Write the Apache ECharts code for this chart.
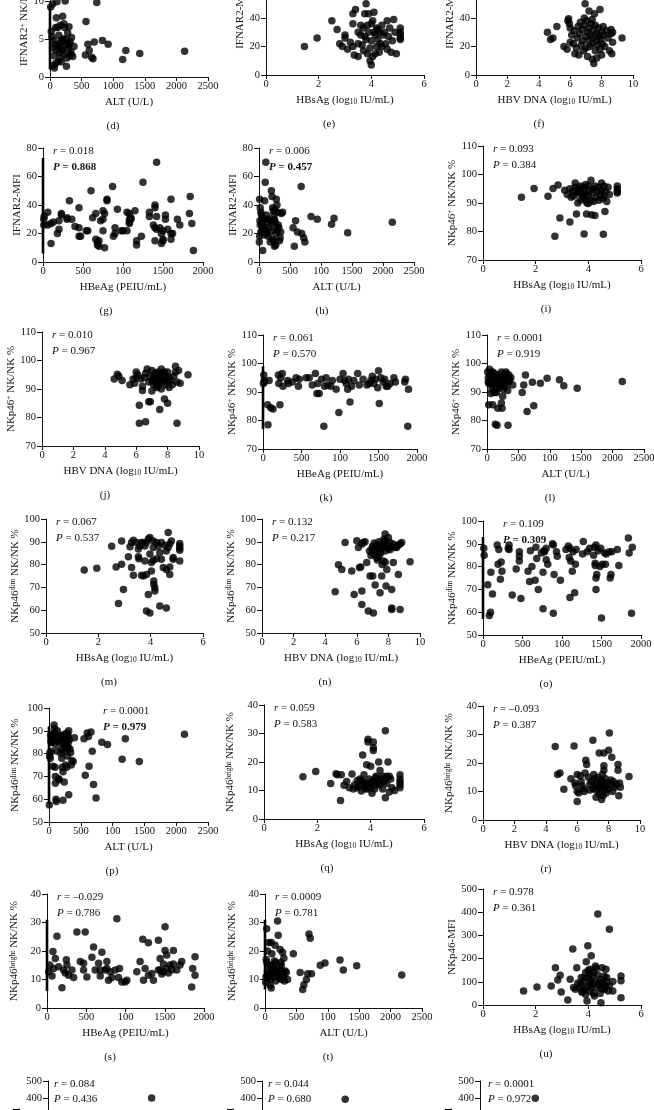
<!DOCTYPE html>
<html><head><meta charset="utf-8">
<script src="https://cdn.jsdelivr.net/npm/echarts/dist/echarts.min.js"></script>
<style>html,body{margin:0;padding:0;background:#fff}#c{width:654px;height:1110px}</style>
</head><body><div id="c"></div>
<script>
// ---------- tick labels ----------
const TICKS_ALT_FULL = ['0','500','1000','1500','2000','2500'];
const TICKS_ALT = ['0','500','100','1500','2000','2500'];
const TICKS_HBEAG = ['0','500','100','1500','2000'];
const TICKS_HBSAG = ['0','2','4','6'];
const TICKS_DNA = ['0','2','4','6','8','10'];
const TICKS_IFN_NK = ['0','5','10','15'];
const TICKS_IFN_MFI = ['0','20','40','60','80'];
const TICKS_NK_POS = ['70','80','90','100','110'];
const TICKS_NK_DIM = ['50','60','70','80','90','100'];
const TICKS_NK_BRIGHT = ['0','10','20','30','40'];
const TICKS_NK_MFI = ['0','100','200','300','400','500'];

// ---------- panel labels & statistics ----------
const R_VALUES = {g:'0.018',h:'0.006',i:'0.093',j:'0.010',k:'0.061',l:'0.0001',m:'0.067',n:'0.132',o:'0.109',p:'0.0001',q:'0.059',r:'–0.093',s:'–0.029',t:'0.0009',u:'0.978',v:'0.084',w:'0.044',x:'0.0001'};
const P_VALUES = {g:'0.868',h:'0.457',i:'0.384',j:'0.967',k:'0.570',l:'0.919',m:'0.537',n:'0.217',o:'0.309',p:'0.979',q:'0.583',r:'0.387',s:'0.786',t:'0.781',u:'0.361',v:'0.436',w:'0.680',x:'0.972'};
const P_BOLD = ['g','h','o','p'];
// dense stacks of points sitting on the y axis (x = 0), given as y ranges
const AXIS_STACKS = {d:[1,9.5], g:[6,73], k:[77,99], o:[57,93], p:[58,92], s:[6,31], t:[6.5,31]};

// ---------- data (x, y) ----------
const dataD = [[10,9.2],[20,6],[30,5.3],[40,9.6],[50,1.5],[60,2.8],[70,1.2],[80,4.3],[90,6.5],[100,7.8],[110,9.9],[120,4],[130,2],[140,5.5],[150,3.2],[160,6.8],[170,4.5],[180,2],[190,3.6],[200,8],[210,5],[220,3],[230,6.5],[240,10],[250,4.2],[260,1.4],[270,2.5],[280,5.8],[290,3.8],[300,6.6],[310,2.8],[320,4.6],[330,3.3],[340,5.2],[360,2.7],[380,4],[60,4.8],[100,3.5],[150,4.2],[200,3.5],[250,5],[300,4.2],[120,6.5],[180,4.8],[40,3.8],[220,7],[270,4.5],[330,3],[90,1.8],[160,2.5],[560,2.9],[570,7.3],[600,4.3],[620,3.5],[660,2.6],[680,2.4],[700,4.6],[740,9.8],[830,4.8],[920,4.3],[1150,2.3],[1200,3.5],[1420,3.1],[2130,3.4]];
const dataE = [[1.46,20],[1.94,26],[2.5,38],[2.7,32],[2.8,22],[2.9,20],[3.0,28],[3.0,26],[3.1,18],[3.2,23],[3.3,43],[3.3,36],[3.35,14],[3.4,46],[3.5,13],[3.5,30],[3.6,35],[3.65,21],[3.7,17],[3.7,33],[3.75,43],[3.8,50],[3.8,25],[3.85,15],[3.9,43],[3.9,30],[3.95,19],[3.95,10],[4.0,7],[4.0,24],[4.0,36],[4.05,13],[4.1,44],[4.1,30],[4.15,28],[4.2,20],[4.2,33],[4.25,25],[4.3,16],[4.3,30],[4.35,22],[4.4,35],[4.45,28],[4.5,30],[4.55,22],[4.6,38],[4.6,18],[4.65,27],[4.7,33],[4.75,16],[4.8,24],[4.85,39],[4.9,30],[4.95,15],[5.1,33],[5.1,30],[5.1,28],[5.1,26],[5.1,25],[3.6,28],[3.85,35],[4.05,38],[3.5,22],[4.25,32],[4.4,20],[3.75,27],[4.15,15],[3.3,20]];
const dataF = [[4.55,30],[4.75,25],[4.9,26],[5.15,34],[5.6,20],[5.8,18],[5.85,38],[5.9,39.5],[5.95,36],[6.0,33],[6.0,23],[6.1,28],[6.2,22],[6.25,31],[6.3,15],[6.4,19],[6.45,26],[6.5,34],[6.55,14],[6.6,29],[6.65,37],[6.7,21],[6.75,32],[6.8,24],[6.85,17],[6.9,35],[6.95,50],[7.0,27],[7.0,19],[7.05,38],[7.1,30],[7.1,13],[7.15,24],[7.2,45],[7.2,33],[7.25,20],[7.3,28],[7.35,36],[7.4,22],[7.4,11],[7.45,26],[7.5,8],[7.5,31],[7.55,43],[7.6,17],[7.6,35],[7.65,24],[7.7,29],[7.7,12],[7.75,21],[7.8,33],[7.85,27],[7.9,46],[7.9,18],[7.95,25],[8.0,30],[8.0,14],[8.05,22],[8.1,34],[8.15,28],[8.2,20],[8.3,31],[8.4,26],[8.5,17],[8.6,32],[8.6,29],[8.7,30],[8.7,23],[8.65,15],[9.3,26],[6.9,40],[7.4,39]];
const dataG = [[10,30],[10,26],[15,32],[60,35],[60,26],[100,13],[100,27],[130,28],[180,20],[200,29],[200,23],[230,33],[230,34],[300,31],[300,30],[330,43],[360,30],[400,25],[450,38],[450,24],[450,18],[470,18],[540,22],[560,22],[600,50],[620,31],[660,16],[660,34],[680,14],[680,12],[700,11],[700,15],[720,29],[750,36],[750,30],[750,22],[770,34],[770,10],[800,44],[800,43],[870,53],[880,18],[900,20],[900,24],[930,37],[980,22],[1000,22],[1050,35],[1050,22],[1080,34],[1080,30],[1080,28],[1080,27],[1100,30],[1100,31],[1150,36],[1170,15],[1170,12],[1250,56],[1230,18],[1330,35],[1330,32],[1380,26],[1400,40],[1400,38],[1400,15],[1400,24],[1420,70],[1420,32],[1420,23],[1460,24],[1480,20],[1480,13],[1500,16],[1500,15],[1500,22],[1530,33],[1530,30],[1560,23],[1600,20],[1600,44],[1600,16],[1620,20],[1680,30],[1710,26],[1830,34],[1840,46],[1860,27],[1880,8]];
const dataH = [[10,44],[20,38],[30,35],[5,14],[40,27],[60,8],[50,22],[80,30],[100,56],[110,70],[90,43],[70,25],[120,33],[130,20],[150,18],[160,24],[180,29],[200,50],[210,46],[220,38],[230,36],[240,33],[250,30],[260,28],[270,20],[280,44],[290,40],[300,35],[310,26],[320,24],[330,15],[340,17],[350,21],[360,34],[200,27],[220,16],[240,15],[250,11],[270,12],[180,14],[150,30],[120,28],[100,23],[90,19],[60,31],[40,33],[30,21],[20,26],[15,29],[10,18],[200,22],[260,37],[280,24],[300,22],[380,35],[230,29],[550,24],[570,11],[590,29],[620,21],[680,53],[690,20],[720,17],[740,14],[840,32],[940,30],[1170,26.5],[1210,30.7],[1430,20.6],[2150,27.9]];
const dataI = [[1.46,92],[1.94,95.1],[2.47,92.4],[2.66,95.1],[2.85,96.3],[2.92,84.7],[2.73,78.3],[3.3,83.3],[3.55,86.1],[3.84,79.1],[3.93,86.1],[4.12,85.9],[4.25,85.6],[4.57,79],[4.63,87],[3.1,94.5],[3.2,93],[3.3,95],[3.4,94],[3.45,92.5],[3.5,97],[3.55,93.5],[3.6,95],[3.6,90],[3.65,94],[3.7,91],[3.7,96],[3.75,93],[3.8,92],[3.8,95.5],[3.85,94],[3.9,91],[3.9,93],[3.95,90],[4.0,96],[4.0,92.5],[4.05,94.5],[4.1,98],[4.1,91],[4.15,93.5],[4.2,95],[4.2,90.5],[4.25,96],[4.3,92],[4.35,94],[4.4,95.5],[4.4,91],[4.45,93],[4.5,97],[4.5,94.5],[4.55,91.5],[4.6,96],[4.6,92.5],[4.65,94],[4.7,90.5],[4.75,95.5],[4.8,93],[5.1,95],[5.1,94],[5.1,93.5],[5.1,96],[3.35,92],[3.5,95.5],[4.0,89.8],[3.9,96.5]];
const dataJ = [[4.6,93.5],[4.8,95.2],[4.9,94.5],[5.1,93],[5.6,91.5],[5.8,93.5],[5.9,92],[6.0,96],[6.0,94],[6.1,95],[6.2,84.3],[6.2,78],[6.3,93.5],[6.4,91],[6.4,89.5],[6.5,94],[6.6,95.5],[6.6,78.5],[6.7,97],[6.8,92.5],[6.8,85.5],[6.9,85.5],[7.0,89.3],[7.0,96.5],[7.0,93],[7.1,94],[7.1,91.5],[7.2,95.5],[7.2,92.5],[7.3,94],[7.3,90.5],[7.4,96],[7.4,93],[7.4,91],[7.5,92.5],[7.5,82.8],[7.5,95],[7.6,97],[7.6,94],[7.6,90],[7.7,92.5],[7.7,95.5],[7.8,86.5],[7.8,93.5],[7.9,91.5],[7.9,94.5],[8.0,92.5],[8.0,85],[8.0,96],[8.1,94],[8.1,90.5],[8.2,93],[8.3,91.5],[8.4,94.5],[8.5,98],[8.5,96],[8.6,92.5],[8.6,78],[8.7,96.5],[8.8,92],[9.3,95],[7.2,93.5],[6.9,94.5],[7.8,96]];
const dataK = [[10,96],[15,94],[5,93],[20,93.5],[60,85.5],[65,78.5],[80,94],[100,84.5],[130,84],[200,96],[205,93],[220,85.5],[230,95],[250,96.5],[260,92],[320,94],[330,93],[380,93.5],[430,95],[460,92],[470,94.5],[560,95],[600,95],[640,92.5],[680,96.5],[700,89.5],[710,93],[730,89.5],[760,94.5],[790,78],[800,92],[820,95],[840,92.5],[880,92],[900,94],[950,91],[985,82.8],[1000,94.5],[1040,96.5],[1060,94],[1080,93],[1100,91],[1110,94.5],[1130,86.5],[1150,92],[1180,94],[1230,96.5],[1250,92.5],[1300,94.5],[1350,92.5],[1380,93],[1400,94],[1420,95.5],[1440,93],[1460,94.5],[1490,91.5],[1500,97.5],[1510,86],[1530,95],[1560,93.5],[1580,94.5],[1600,92],[1620,92],[1650,93],[1700,95],[1720,93.5],[1840,93.5],[1850,94.5],[1880,78],[1890,91]];
const dataL = [[27,85.5],[90,85.5],[133,78.7],[160,78.3],[335,78.3],[240,84.3],[229,86.1],[133,89.8],[560,89.8],[585,92.5],[612,96],[638,83.2],[745,85.2],[850,93.1],[957,94.8],[1154,94.3],[1223,92.2],[1436,91.3],[2154,93.7],[723,93.4],[10,97],[20,95],[30,93],[40,98],[50,96],[60,94],[70,92.5],[80,91],[90,95.5],[100,93],[110,90],[120,96.5],[130,94],[150,92],[160,95],[170,84.3],[180,93],[190,96],[200,91.5],[210,94.5],[220,92],[230,97],[240,93.5],[250,95],[260,91],[270,96],[280,93],[290,94.5],[300,92],[310,96.5],[320,95],[330,90.5],[340,93.5],[350,96],[360,94],[380,95],[410,92.5],[60,89.5],[150,89.8],[250,88.5],[20,93.5],[90,97],[200,95],[300,97]];
const dataM = [[1.46,77.6],[1.94,78.4],[2.51,88],[2.68,79],[2.77,62.9],[2.89,80.1],[2.89,90.4],[2.96,69.1],[3.15,83.4],[3.21,87.8],[3.27,78.7],[3.34,75.3],[3.34,90.7],[3.46,89.7],[3.53,86.8],[3.53,83.4],[3.55,82.6],[3.65,89.7],[3.65,75.3],[3.72,75],[3.78,88.2],[3.78,81.6],[3.84,75.7],[3.84,89.7],[3.91,91.2],[3.91,66.9],[3.84,59.6],[3.97,58.8],[3.97,91.9],[3.97,84.6],[4.03,77.2],[4.03,80.9],[4.1,90.4],[4.1,87.5],[4.12,72.8],[4.12,71.3],[4.16,69.9],[4.16,68.4],[4.1,81.9],[4.22,82.6],[4.29,88.2],[4.35,85.3],[4.41,89.7],[4.35,61.8],[4.41,82.4],[4.48,78.7],[4.54,88.5],[4.6,86],[4.6,77.9],[4.6,61],[4.67,94.1],[4.67,87.5],[4.73,89],[4.73,79],[4.73,75.7],[4.79,90.4],[4.86,83.1],[4.86,82.4],[5.11,89.3],[5.11,88.2],[5.11,87.2],[5.11,86.3],[5.11,81.6],[3.72,89.7],[3.59,88.2],[3.27,89.7],[4.22,89.7]];
const dataN = [[4.63,68.1],[4.84,79.9],[5.05,77.9],[5.26,89.7],[5.68,77.2],[5.83,66.9],[6.0,90.5],[6.1,87.5],[6.17,78.7],[6.25,79],[6.32,89],[6.32,68.4],[6.42,89.7],[6.32,62.5],[6.52,90],[6.73,59.6],[6.63,80.9],[6.84,75],[7.01,75],[7.05,58.8],[7.16,87.5],[7.16,71],[7.26,83.1],[7.37,86.1],[7.47,67.6],[7.58,75],[7.68,81.6],[7.79,89],[7.79,93.4],[7.85,70.6],[7.9,77.9],[8.0,91.9],[8.1,89.7],[8.21,69.1],[8.21,61],[8.21,60.3],[8.31,80.9],[8.52,87.5],[8.63,75.7],[8.74,60.3],[8.74,89],[8.84,89.7],[9.37,81.3],[7.0,88],[7.1,89.5],[7.2,86],[7.3,88.5],[7.4,90],[7.5,87],[7.5,85],[7.6,89],[7.7,91],[7.7,87.5],[7.8,86],[7.9,88.5],[8.0,87],[8.2,88],[8.3,89],[8.4,87.5],[8.6,88.5],[6.9,84],[7.0,85.5],[7.3,82],[7.6,80],[7.8,81],[7.1,84.5],[7.4,83.5],[6.8,86],[6.95,87],[7.8,90.5],[8.1,86.5]];
const dataO = [[10,88],[15,85],[60,72],[80,58.5],[95,60],[100,77.5],[120,68],[180,89.5],[190,81],[200,87.5],[220,74.5],[230,82],[240,78],[320,88],[330,89.5],[330,87.5],[370,67.5],[420,79],[460,86.5],[460,84.5],[460,82.5],[480,66],[570,78],[590,73.5],[600,87],[620,80],[660,74],[670,88.5],[680,83.5],[700,70],[740,86],[760,77.5],[770,87],[780,86.5],[760,61.5],[800,83],[800,88],[820,81],[880,90],[890,89.5],[890,59.5],[900,76.5],[930,86.5],[940,84.5],[980,74],[1050,87.5],[1080,89],[1090,84],[1100,66.5],[1100,88],[1110,82.5],[1130,78],[1140,86.5],[1160,68.5],[1170,81],[1180,87.5],[1260,85.5],[1270,91],[1320,86.5],[1350,88],[1400,85],[1410,88.5],[1420,81.5],[1420,80.5],[1430,89.5],[1430,75],[1430,70],[1440,76.5],[1460,87],[1480,80],[1490,88],[1500,57.5],[1510,81],[1540,86],[1550,81],[1560,85.5],[1600,86.5],[1610,75],[1620,76.5],[1630,86.5],[1700,87.5],[1720,80.5],[1840,92.5],[1850,86],[1880,59.5],[1890,88.5]];
const dataP = [[5,57.5],[10,79],[15,80.5],[20,78],[25,88],[30,86],[35,85],[40,81],[50,88.5],[60,74.5],[70,86],[80,92.5],[85,91],[90,89],[95,74],[100,84],[100,67],[100,70],[110,60],[115,59],[120,85.5],[130,81],[140,88],[150,69],[160,68.5],[170,86],[180,87.5],[190,80],[200,88],[200,78],[210,86.5],[220,72],[220,59.5],[230,87],[240,67.5],[240,81],[250,88.5],[250,83],[260,75],[270,82.5],[270,86],[280,89],[280,74],[290,87.5],[290,79],[300,88],[300,83],[310,90],[310,62],[320,86],[330,82],[340,80.5],[350,75],[360,77],[380,76.5],[400,87],[550,86.5],[570,70.5],[600,89],[620,87.5],[630,74.5],[660,89.5],[680,81],[700,66.5],[740,60.5],[830,85],[920,84],[1150,77.5],[1200,86.5],[1420,76.5],[2130,88.5],[40,85],[60,88],[130,90],[180,85],[200,82],[230,84],[260,86],[300,85],[210,74]];
const dataQ = [[1.46,14.8],[1.94,16.7],[2.5,12.5],[2.7,15.9],[2.75,15.5],[2.9,15.5],[2.87,6.5],[3.0,11.8],[3.1,13.2],[3.2,11],[3.3,15.8],[3.35,10.5],[3.4,12],[3.5,13.5],[3.55,11.5],[3.6,14],[3.65,9.8],[3.7,12.5],[3.7,22.5],[3.75,13],[3.8,11],[3.8,10.5],[3.85,19],[3.9,28],[3.9,27],[3.95,12],[3.95,14],[4.0,18.5],[4.05,9],[4.05,13],[4.1,27],[4.1,25],[4.1,24],[4.15,10.5],[4.2,15],[4.2,11.8],[4.25,13],[4.3,20],[4.35,17],[4.35,12],[4.4,14],[4.45,10.5],[4.5,13],[4.55,31],[4.55,7.5],[4.6,12.5],[4.65,20],[4.7,15],[4.7,9.5],[4.75,14],[4.8,11],[4.9,10],[5.1,15.5],[5.1,14],[5.1,13],[5.1,12],[5.1,11],[3.65,13.5],[3.75,15.5],[3.85,12.5],[4.0,11],[4.1,13.5],[4.3,12.5],[4.45,15],[3.5,11],[3.9,10.5],[4.2,14.5],[4.6,15]];
const dataR = [[4.6,25.8],[4.75,16],[4.9,16.5],[5.15,10.8],[5.6,14.5],[5.8,26],[5.85,13],[5.9,12],[6.0,16],[6.0,6.5],[6.0,10],[6.1,9.5],[6.2,15.5],[6.25,13.5],[6.3,12],[6.4,11],[6.45,10],[6.5,16.5],[6.55,21],[6.6,19.5],[6.7,15],[6.8,12.5],[6.9,13.5],[7.0,28],[7.0,11],[7.05,16],[7.1,14.5],[7.15,12],[7.2,10.5],[7.25,13],[7.3,15],[7.35,11.5],[7.4,23.5],[7.4,9],[7.45,12.5],[7.5,14],[7.5,10],[7.55,7.2],[7.6,11.5],[7.6,13.5],[7.65,8.5],[7.7,23.5],[7.7,19],[7.7,17.5],[7.75,12],[7.8,10.5],[7.8,14.5],[7.85,9.5],[7.9,13],[8.0,24.5],[8.0,11],[8.05,30.5],[8.1,12.5],[8.15,14],[8.2,22],[8.25,10],[8.3,13.5],[8.4,11.5],[8.5,12.5],[8.6,19.5],[8.6,17.5],[8.65,8.5],[8.7,13],[8.75,11.5],[9.3,15.3],[7.2,8],[6.8,10.5],[7.6,16]];
const dataS = [[21,12.7],[34,15.1],[85,13.9],[76,19.8],[106,17.4],[127,25.2],[148,14.5],[191,7.1],[212,13.3],[233,12.3],[246,16.9],[254,15.1],[275,11.5],[318,13.3],[339,10.7],[381,26.7],[424,16.3],[466,15.7],[466,13.3],[487,26.7],[572,17.8],[593,21.4],[614,13.3],[657,15.7],[678,13.3],[678,11.2],[699,19.6],[741,13.3],[763,16.3],[763,13.9],[784,9.7],[805,12.7],[826,10.7],[890,31.3],[911,10.7],[924,13.9],[953,9.1],[996,9.1],[1017,9.7],[1144,12.7],[1186,16.3],[1220,24.1],[1229,9.7],[1250,13.9],[1292,22.9],[1292,11.5],[1335,12.1],[1356,9.7],[1419,13.3],[1419,23.8],[1441,17.4],[1462,11.9],[1483,15.4],[1504,20.2],[1504,28.5],[1525,18.6],[1525,13.9],[1547,12.3],[1568,15.1],[1589,13.3],[1610,20.2],[1610,15.4],[1653,13.3],[1695,15.1],[1716,16.3],[1843,7.4],[1856,13.9],[1886,18],[1886,11.5],[1441,13.3],[1483,12.7],[508,10.9],[64,11.2],[869,13.3]];
const dataT = [[27,27.8],[20,17],[15,11],[10,9],[30,16],[40,13],[50,10.5],[60,23],[70,15],[80,8],[85,12],[90,10],[100,23],[100,7],[110,19],[120,14],[130,12],[140,11],[150,16.5],[160,22],[170,9.5],[180,13],[190,12],[200,30.5],[210,25.5],[220,11],[230,14],[240,20.5],[250,16],[260,10],[270,13],[280,19.5],[290,12],[300,17.5],[310,9.5],[320,13],[340,12.5],[360,10],[40,20],[130,15],[230,10.5],[260,15],[200,13],[170,16],[100,14],[60,12],[300,11],[451,19],[560,12.5],[600,6.5],[620,8.2],[660,10],[680,12],[700,26],[720,24.5],[740,12],[880,15],[955,15.8],[1194,16.8],[1247,13.3],[1460,14.8],[2177,11.6]];
const dataU = [[1.54,60.5],[2.05,77.8],[2.59,82.1],[2.75,161],[2.84,108],[2.93,128],[2.97,56.2],[3.22,21.6],[3.31,111],[3.41,241],[3.44,75],[3.51,67.7],[3.56,161],[3.64,75],[3.73,118],[3.79,60.5],[3.92,186],[3.98,255],[3.95,17.3],[4.04,96.5],[4.07,154],[4.11,212],[4.11,75],[4.17,125],[4.23,38.9],[4.27,168],[4.36,392],[4.42,96.5],[4.48,10.1],[4.52,161],[4.61,67.7],[4.67,154],[4.7,118],[4.8,327],[4.8,82],[4.93,60.5],[5.24,125],[5.24,104],[5.24,31.7],[4.93,101],[3.7,90],[3.8,100],[3.85,70],[3.9,140],[3.95,80],[4.0,120],[4.05,60],[4.1,105],[4.15,90],[4.2,140],[4.25,100],[4.3,75],[4.35,130],[4.4,85],[4.45,110],[4.5,70],[4.55,95],[4.6,125],[4.65,80],[4.7,100],[4.75,60],[3.75,55],[3.9,45],[4.0,150],[4.2,50],[4.3,160],[4.45,50],[3.6,95],[3.85,118],[4.05,135]];
const dataV = [[6.6,400]];
const dataW = [[1060,392]];
const dataX = [[880,398]];

// ---------- styling / layout (not data) ----------
const SERIF = '"Liberation Serif", "Times New Roman", serif';
const INK = '#111';
const LAYOUT = {
  d:{L:50,B:77,W:158,H:114,ng:19}, e:{L:266,B:75,W:158,H:114,ng:14}, f:{L:476,B:75,W:157,H:114,ng:14},
  g:{L:43,B:262,W:160,H:114,ng:14}, h:{L:259,B:262,W:155,H:114,ng:14}, i:{L:483,B:260,W:158,H:114,ng:23},
  j:{L:42,B:446,W:157,H:114,ng:22}, k:{L:263,B:449,W:154,H:114,ng:23}, l:{L:487,B:449,W:157,H:114,ng:23},
  m:{L:46,B:633,W:157,H:114,ng:25}, n:{L:262,B:633,W:158,H:114,ng:25}, o:{L:483,B:635,W:158,H:114,ng:25},
  p:{L:49,B:822,W:159,H:114,ng:28}, q:{L:264,B:819,W:160,H:114,ng:28}, r:{L:483,B:820,W:157,H:114,ng:28},
  s:{L:47,B:1008,W:157,H:114,ng:27}, t:{L:265,B:1008,W:157,H:114,ng:27}, u:{L:483,B:1005,W:158,H:116,ng:23},
  v:{L:48,B:1166,W:157,H:85,ng:23,namePad:24}, w:{L:262,B:1166,W:157,H:85,ng:23,namePad:24}, x:{L:480,B:1166,W:157,H:85,ng:23,namePad:24}
};
const STAT_DX = {o:20, p:54, v:6, w:6, x:8};
const STAT_LH = {v:15, w:15, x:15};

const XAX = {
  alt:{min:0,max:2500,interval:500,ticks:TICKS_ALT,name:'ALT (U/L)'},
  altFull:{min:0,max:2500,interval:500,ticks:TICKS_ALT_FULL,name:'ALT (U/L)'},
  hbeag:{min:0,max:2000,interval:500,ticks:TICKS_HBEAG,name:'HBeAg (PEIU/mL)'},
  hbsag:{min:0,max:6,interval:2,ticks:TICKS_HBSAG,name:'HBsAg (log{sub|10} IU/mL)'},
  dna:{min:0,max:10,interval:2,ticks:TICKS_DNA,name:'HBV DNA (log{sub|10} IU/mL)'}
};
const YAX = {
  ifnNk:{min:0,max:15,interval:5,ticks:TICKS_IFN_NK,name:'IFNAR2{sup|+} NK/NK %'},
  ifnMfi:{min:0,max:80,interval:20,ticks:TICKS_IFN_MFI,name:'IFNAR2-MFI'},
  nkPos:{min:70,max:110,interval:10,ticks:TICKS_NK_POS,name:'NKp46{sup|+} NK/NK %'},
  nkDim:{min:50,max:100,interval:10,ticks:TICKS_NK_DIM,name:'NKp46{sup|dim} NK/NK %'},
  nkBright:{min:0,max:40,interval:10,ticks:TICKS_NK_BRIGHT,name:'NKp46{sup|bright} NK/NK %'},
  nkMfi:{min:0,max:500,interval:100,ticks:TICKS_NK_MFI,name:'NKp46-MFI'}
};
const PANELS = [
  ['d',dataD,'altFull','ifnNk'],['e',dataE,'hbsag','ifnMfi'],['f',dataF,'dna','ifnMfi'],
  ['g',dataG,'hbeag','ifnMfi'],['h',dataH,'alt','ifnMfi'],['i',dataI,'hbsag','nkPos'],
  ['j',dataJ,'dna','nkPos'],['k',dataK,'hbeag','nkPos'],['l',dataL,'alt','nkPos'],
  ['m',dataM,'hbsag','nkDim'],['n',dataN,'dna','nkDim'],['o',dataO,'hbeag','nkDim'],
  ['p',dataP,'alt','nkDim'],['q',dataQ,'hbsag','nkBright'],['r',dataR,'dna','nkBright'],
  ['s',dataS,'hbeag','nkBright'],['t',dataT,'alt','nkBright'],['u',dataU,'hbsag','nkMfi'],
  ['v',dataV,'dna','nkMfi'],['w',dataW,'hbeag','nkMfi'],['x',dataX,'alt','nkMfi']
];

const RICH = {
  sup:{fontSize:7.5,fontFamily:SERIF,color:INK,verticalAlign:'top'},
  sub:{fontSize:7.5,fontFamily:SERIF,color:INK,verticalAlign:'bottom'}
};
function axisBase(spec){
  return {
    type:'value', min:spec.min, max:spec.max, interval:spec.interval,
    axisLine:{show:true,onZero:false,lineStyle:{color:INK,width:1}},
    axisTick:{show:true,length:4,lineStyle:{color:INK,width:1}},
    splitLine:{show:false},
    axisLabel:{fontFamily:SERIF,fontSize:10.5,color:INK,
      formatter:(v,idx)=>spec.ticks[idx] !== undefined ? spec.ticks[idx] : ''},
    name:spec.name, nameLocation:'middle',
    nameTextStyle:{fontFamily:SERIF,fontSize:11,color:INK,rich:RICH}
  };
}

const grids=[], xAxes=[], yAxes=[], series=[], graphics=[];
PANELS.forEach(([id,data,xk,yk],i)=>{
  const lay = LAYOUT[id];
  grids.push({left:lay.L, top:lay.B-lay.H, width:lay.W, height:lay.H, containLabel:false, outerBoundsMode:'none'});
  const xa = axisBase(XAX[xk]);
  xa.gridIndex=i; xa.nameGap=20; xa.axisLabel.margin=4;
  xAxes.push(xa);
  const ya = axisBase(YAX[yk]);
  ya.gridIndex=i; ya.nameGap=lay.ng; ya.nameRotate=90; ya.axisLabel.margin=6; ya.axisTick.length=5;
  if (lay.namePad) ya.nameTextStyle.padding=[0,lay.namePad,0,0];
  yAxes.push(ya);
  series.push({type:'scatter',xAxisIndex:i,yAxisIndex:i,data:data,symbol:'circle',symbolSize:7.5,
    itemStyle:{color:'#000'},clip:false,silent:true,animation:false});
  if (AXIS_STACKS[id]) {
    series.push({type:'line',xAxisIndex:i,yAxisIndex:i,data:[[0,AXIS_STACKS[id][0]],[0,AXIS_STACKS[id][1]]],
      symbol:'none',lineStyle:{color:'#000',width:2.6},clip:false,silent:true,animation:false});
  }
  graphics.push({type:'text',x:lay.L+63,y:lay.B+49,silent:true,
    style:{text:'('+id+')',fill:INK,fontFamily:SERIF,fontSize:11,textAlign:'center',textVerticalAlign:'middle'}});
  if (R_VALUES[id]) {
    const tx = lay.L + (STAT_DX[id] || 10), ty = lay.B - lay.H + 3;
    const lh = STAT_LH[id] || 16;
    const bold = P_BOLD.includes(id);
    graphics.push({type:'text',x:tx,y:ty,silent:true,
      style:{text:'{i|r} = '+R_VALUES[id],fill:INK,fontFamily:SERIF,fontSize:11,textAlign:'left',textVerticalAlign:'middle',
        rich:{i:{fontStyle:'italic',fontFamily:SERIF,fontSize:11,fill:INK}}}});
    graphics.push({type:'text',x:tx,y:ty+lh,silent:true,
      style:{text:'{i|P}{v| = '+P_VALUES[id]+'}',fill:INK,fontFamily:SERIF,fontSize:11,textAlign:'left',textVerticalAlign:'middle',
        rich:{i:{fontStyle:'italic',fontWeight:bold?'bold':'normal',fontFamily:SERIF,fontSize:11,fill:INK},
              v:{fontWeight:bold?'bold':'normal',fontFamily:SERIF,fontSize:11,fill:INK}}}});
  }
});

const chart = echarts.init(document.getElementById('c'), null, {renderer:'canvas'});
chart.setOption({
  animation:false, backgroundColor:'#fff',
  grid:grids, xAxis:xAxes, yAxis:yAxes, series:series, graphic:graphics
});
</script></body></html>
